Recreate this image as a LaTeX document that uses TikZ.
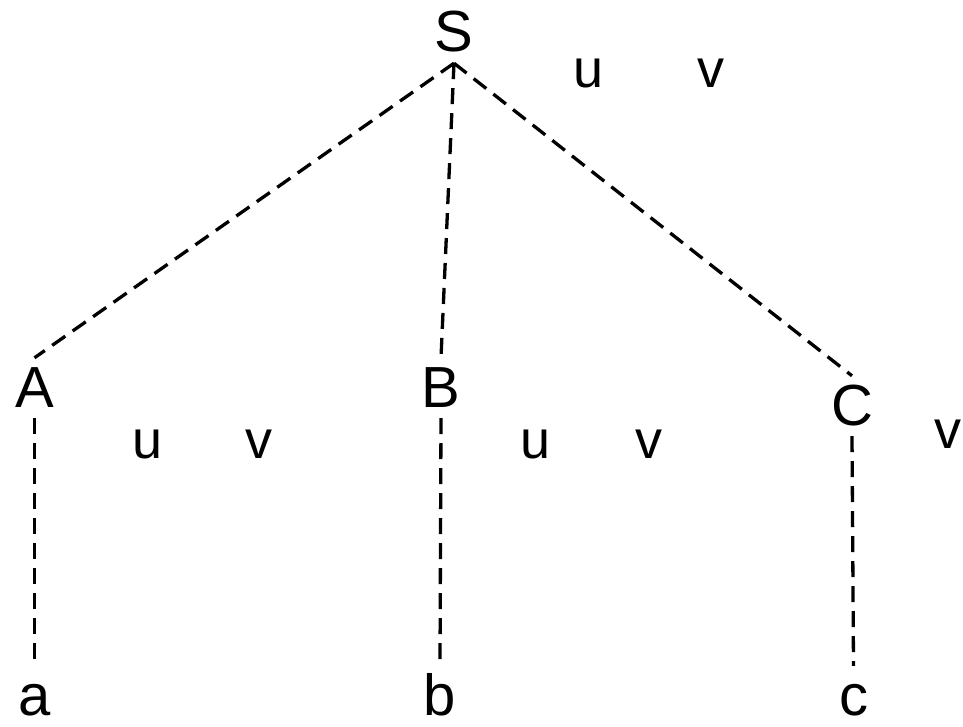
\documentclass[tikz,border=0pt]{standalone}
\usepackage{fontspec}
\setmainfont{Liberation Sans}
\tikzset{sym/.style={anchor=base,inner xsep=2pt,inner ysep=7pt,text height=42pt,text depth=4pt,font=\fontsize{58}{60}\selectfont},uv/.style={anchor=base,inner sep=0pt,font=\fontsize{54}{56}\selectfont},branch/.style={line width=3.3pt,dash pattern=on 16pt off 9pt}}
\begin{document}
\begin{tikzpicture}[x=1pt,y=-1pt]
\path[use as bounding box] (0,0) rectangle (963,727);
\node[sym] (S) at (454,52) {S};
\node[sym] (A) at (34.5,407) {A};
\node[sym] (B) at (441,407) {B};
\node[sym] (C) at (852,425) {C};
\node[sym] (a) at (34.5,715) {a};
\node[sym] (b) at (440,715) {b};
\node[sym] (c) at (853.5,715) {c};
\draw[branch] (S.south) -- (A.north);
\draw[branch] (S.south) -- (B.north);
\draw[branch] (S.south) -- (C.north);
\draw[branch] (A.south) -- (a.north);
\draw[branch] (B.south) -- (b.north);
\draw[branch] (C.south) -- (c.north);
\node[uv] (u0) at (589,88) {u};
\node[uv] (v0) at (711,88) {v};
\node[uv] (u1) at (147.5,458) {u};
\node[uv] (v1) at (259,458) {v};
\node[uv] (u2) at (536,458) {u};
\node[uv] (v2) at (649,458) {v};
\node[uv,anchor=base east] (v3) at (962,448) {v};
\end{tikzpicture}
\end{document}
